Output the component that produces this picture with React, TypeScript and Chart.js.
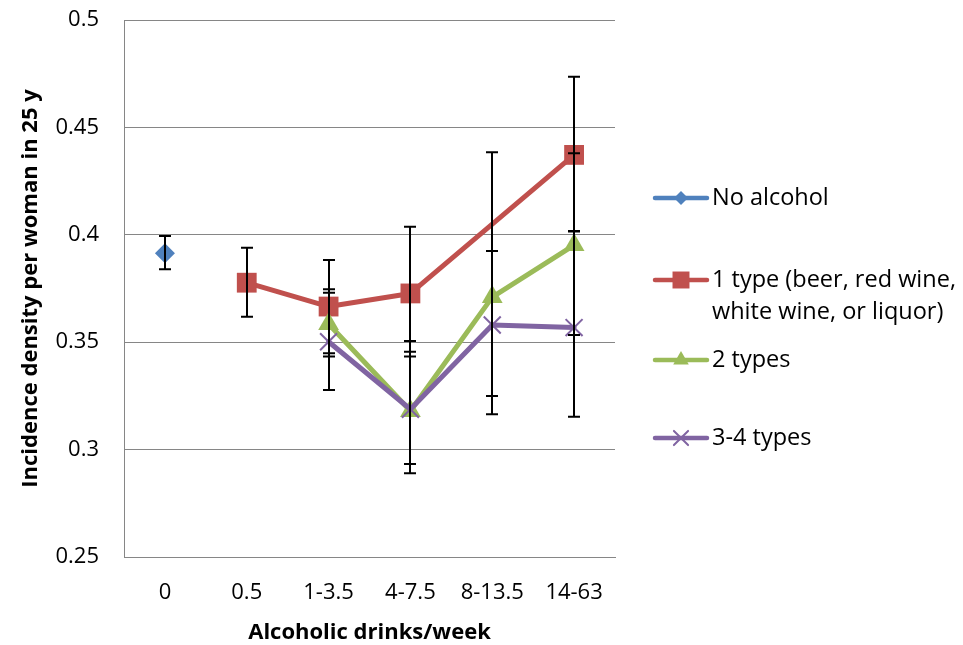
import React, { useEffect, useRef } from "react";
import { Chart, registerables } from "chart.js";

Chart.register(...registerables);

const categories = ["0", "0.5", "1-3.5", "4-7.5", "8-13.5", "14-63"];

const noAlcohol = [0.3914, null, null, null, null, null];
const noAlcoholLow = [0.384, null, null, null, null, null];
const noAlcoholHigh = [0.3994, null, null, null, null, null];

const oneType = [null, 0.3777, 0.3666, 0.3727, null, 0.4372];
const oneTypeLow = [null, 0.3619, 0.3448, 0.3433, null, 0.4018];
const oneTypeHigh = [null, 0.394, 0.3883, 0.4038, null, 0.4736];

const twoTypes = [null, null, 0.3585, 0.318, 0.371, 0.3952];
const twoTypesLow = [null, null, 0.3433, 0.289, 0.3164, 0.3533];
const twoTypesHigh = [null, null, 0.373, 0.3506, 0.4384, 0.438];

const threeFourTypes = [null, null, 0.3502, 0.3188, 0.358, 0.3568];
const threeFourTypesLow = [null, null, 0.3277, 0.2933, 0.325, 0.3153];
const threeFourTypesHigh = [null, null, 0.3746, 0.3456, 0.3925, 0.4015];

const seriesLabels = [
  "No alcohol",
  "1 type (beer, red wine, white wine, or liquor)",
  "2 types",
  "3-4 types",
];
const legendLines = [
  ["No alcohol"],
  ["1 type (beer, red wine,", "white wine, or liquor)"],
  ["2 types"],
  ["3-4 types"],
];

const yTicks = [0.25, 0.3, 0.35, 0.4, 0.45, 0.5];

const FONT = "'Open Sans', sans-serif";

const errorBarPlugin = {
  id: "errorBars",
  afterDatasetsDraw(chart: any) {
    const ctx = chart.ctx;
    const y = chart.scales.y;
    ctx.save();
    ctx.strokeStyle = "#000";
    ctx.lineWidth = 2;
    chart.data.datasets.forEach((ds: any, di: number) => {
      const meta = chart.getDatasetMeta(di);
      ds.data.forEach((v: any, i: number) => {
        if (v == null || ds.errLow[i] == null) return;
        const pt = meta.data[i];
        const x = Math.round(pt.x);
        const yl = y.getPixelForValue(ds.errLow[i]);
        const yh = y.getPixelForValue(ds.errHigh[i]);
        ctx.beginPath();
        ctx.moveTo(x, yl);
        ctx.lineTo(x, yh);
        ctx.moveTo(x - 6, yl);
        ctx.lineTo(x + 6, yl);
        ctx.moveTo(x - 6, yh);
        ctx.lineTo(x + 6, yh);
        ctx.stroke();
      });
    });
    ctx.restore();
  },
};

function drawMarker(ctx: CanvasRenderingContext2D, style: string, x: number, y: number, r: number, color: string) {
  ctx.save();
  ctx.fillStyle = color;
  ctx.strokeStyle = color;
  ctx.beginPath();
  if (style === "rectRot") {
    ctx.moveTo(x, y - r);
    ctx.lineTo(x + r, y);
    ctx.lineTo(x, y + r);
    ctx.lineTo(x - r, y);
    ctx.closePath();
    ctx.fill();
  } else if (style === "rect") {
    const s = r * Math.SQRT1_2;
    ctx.rect(x - s, y - s, 2 * s, 2 * s);
    ctx.fill();
  } else if (style === "triangle") {
    ctx.moveTo(x, y - r);
    ctx.lineTo(x + r * 0.866, y + r / 2);
    ctx.lineTo(x - r * 0.866, y + r / 2);
    ctx.closePath();
    ctx.fill();
  } else if (style === "crossRot") {
    const o = r * Math.SQRT1_2;
    ctx.lineWidth = 2;
    ctx.moveTo(x - o, y - o);
    ctx.lineTo(x + o, y + o);
    ctx.moveTo(x - o, y + o);
    ctx.lineTo(x + o, y - o);
    ctx.stroke();
  }
  ctx.restore();
}

const legendPlugin = {
  id: "sideLegend",
  afterDraw(chart: any) {
    const ctx = chart.ctx;
    const ys = [198, 280, 360, 438];
    ctx.save();
    ctx.font = `23.5px ${FONT}`;
    ctx.textBaseline = "middle";
    ctx.textAlign = "left";
    chart.data.datasets.forEach((ds: any, i: number) => {
      const yy = ys[i];
      ctx.strokeStyle = ds.borderColor;
      ctx.lineWidth = 4.5;
      ctx.lineCap = "round";
      ctx.beginPath();
      ctx.moveTo(655, yy);
      ctx.lineTo(707, yy);
      ctx.stroke();
      drawMarker(ctx, ds.pointStyle, 681, yy, ds.legendRadius, ds.borderColor);
      ctx.fillStyle = "#000";
      legendLines[i].forEach((line, li) => {
        ctx.fillText(line, 712, yy + li * 32);
      });
    });
    ctx.restore();
  },
};

export default function App() {
  const ref = useRef<HTMLCanvasElement>(null);
  useEffect(() => {
    document.body.style.margin = "0";
    const canvas = ref.current!;
    const chart = new Chart(canvas, {
      type: "line",
      data: {
        labels: categories,
        datasets: [
          {
            label: seriesLabels[0],
            data: noAlcohol,
            errLow: noAlcoholLow,
            errHigh: noAlcoholHigh,
            borderColor: "#4F81BD",
            backgroundColor: "#4F81BD",
            pointBackgroundColor: "#4F81BD",
            pointBorderColor: "#4F81BD",
            pointStyle: "rectRot",
            pointRadius: 10,
            pointBorderWidth: 0,
            legendRadius: 7,
            borderWidth: 5,
            order: 4,
          },
          {
            label: seriesLabels[1],
            data: oneType,
            errLow: oneTypeLow,
            errHigh: oneTypeHigh,
            borderColor: "#C0504D",
            backgroundColor: "#C0504D",
            pointBackgroundColor: "#C0504D",
            pointBorderColor: "#C0504D",
            pointStyle: "rect",
            pointRadius: 14,
            pointBorderWidth: 0,
            legendRadius: 12,
            borderWidth: 5,
            spanGaps: true,
            order: 3,
          },
          {
            label: seriesLabels[2],
            data: twoTypes,
            errLow: twoTypesLow,
            errHigh: twoTypesHigh,
            borderColor: "#9BBB59",
            backgroundColor: "#9BBB59",
            pointBackgroundColor: "#9BBB59",
            pointBorderColor: "#9BBB59",
            pointStyle: "triangle",
            pointRadius: 12,
            pointBorderWidth: 0,
            legendRadius: 9,
            borderWidth: 5,
            order: 2,
          },
          {
            label: seriesLabels[3],
            data: threeFourTypes,
            errLow: threeFourTypesLow,
            errHigh: threeFourTypesHigh,
            borderColor: "#8064A2",
            backgroundColor: "#8064A2",
            pointBackgroundColor: "#8064A2",
            pointBorderColor: "#8064A2",
            pointStyle: "crossRot",
            pointRadius: 12,
            pointBorderWidth: 2,
            legendRadius: 10,
            borderWidth: 5,
            order: 1,
          },
        ] as any,
      },
      options: {
        animation: false,
        responsive: false,
        maintainAspectRatio: false,
        layout: { padding: { top: 20, right: 348, left: 0, bottom: 0 } },
        plugins: { legend: { display: false }, tooltip: { enabled: false } },
        elements: { line: { tension: 0, borderJoinStyle: "round", borderCapStyle: "round" } },
        scales: {
          x: {
            offset: true,
            grid: { display: false, drawTicks: false },
            border: { color: "#868686", width: 1 },
            ticks: { color: "#000", font: { family: FONT, size: 22 }, padding: 23, maxRotation: 0 },
            title: {
              display: true,
              text: "Alcoholic drinks/week",
              color: "#000",
              font: { family: FONT, size: 22, weight: "bold", lineHeight: 1 },
              padding: { top: 0, bottom: 1 },
            },
            afterFit: (s: any) => {
              s.height = 88;
            },
          },
          y: {
            min: 0.25,
            max: 0.5,
            afterBuildTicks: (s: any) => {
              s.ticks = yTicks.map((v) => ({ value: v }));
            },
            grid: { color: "#868686", lineWidth: 1, drawTicks: true, tickLength: 25, tickColor: "rgba(0,0,0,0)" },
            border: { color: "#868686", width: 1 },
            ticks: {
              color: "#000",
              font: { family: FONT, size: 22 },
              padding: 0,
              callback: (v: any) => String(Number(v)),
            },
            title: {
              display: true,
              text: "Incidence density per woman in 25 y",
              color: "#000",
              font: { family: FONT, size: 22, weight: "bold", lineHeight: 1 },
              padding: { top: 20, bottom: 0 },
            },
            afterFit: (s: any) => {
              s.width = 124;
            },
          },
        },
      },
      plugins: [errorBarPlugin, legendPlugin],
    });
    return () => chart.destroy();
  }, []);
  return (
    <div style={{ position: "absolute", left: 0, top: 0, width: 963, height: 645 }}>
      <canvas ref={ref} width={963} height={645} style={{ width: 963, height: 645 }} />
    </div>
  );
}
